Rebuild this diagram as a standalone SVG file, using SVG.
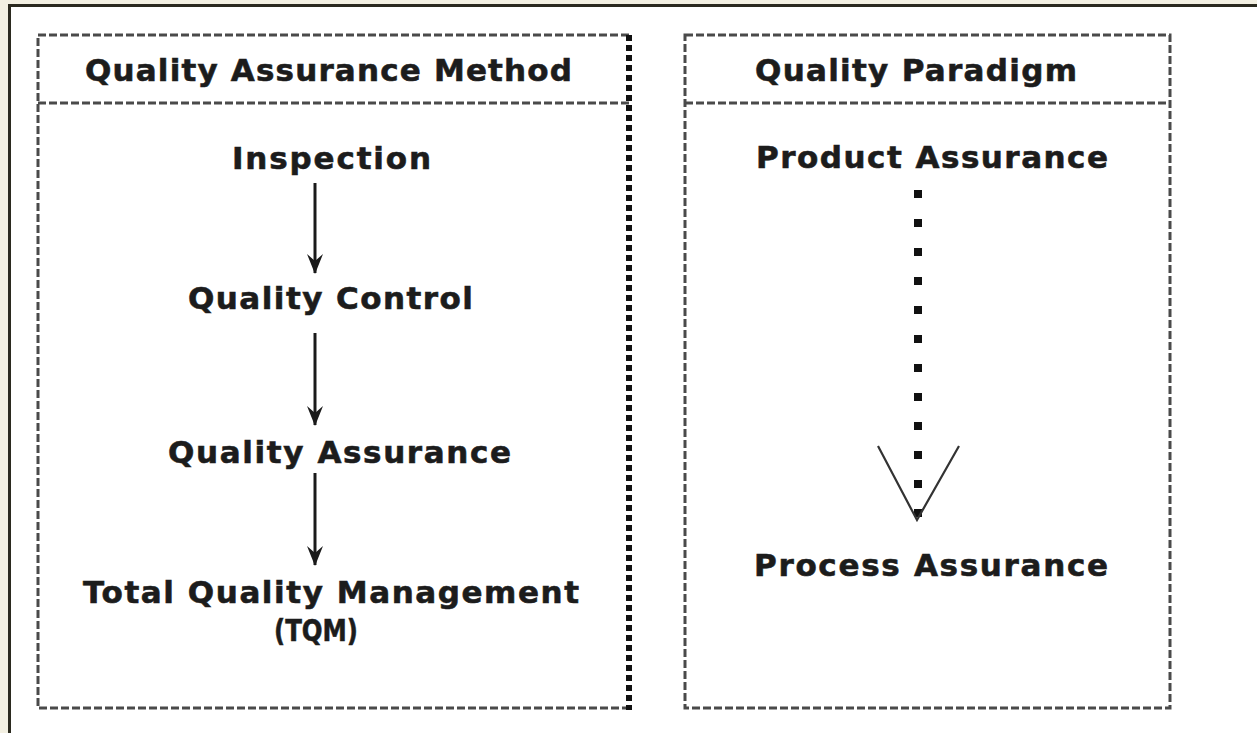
<svg xmlns="http://www.w3.org/2000/svg" width="1257" height="733" viewBox="0 0 1257 733">
<style>
.bg{fill:#f3f0e2}
.frame{fill:#ffffff;stroke:#2b2a1f;stroke-width:3}
.dash{fill:none;stroke:#4a4a4a;stroke-width:3;stroke-dasharray:8 3}
.thick{fill:none;stroke:#111;stroke-width:6;stroke-dasharray:6 4}
.t{font-family:"DejaVu Sans",sans-serif;font-weight:bold;font-size:31px;fill:#1c1c1c;stroke:#1c1c1c;stroke-width:0.6}
.arrow{stroke:#1a1a1a;stroke-width:3;fill:none}
.dots{stroke:#111;stroke-width:8;stroke-dasharray:8 21;fill:none}
.vee{stroke:#333;stroke-width:2.2;fill:none}
</style>
<defs>
<marker id="ah" markerWidth="20" markerHeight="16" refX="19" refY="8" orient="auto" markerUnits="userSpaceOnUse" viewBox="0 0 20 16">
<path d="M0,0 L7,8 L0,16 L20,8 Z" fill="#1a1a1a"/>
</marker>
</defs>
<rect class="bg" x="0" y="0" width="1257" height="733"/>
<rect class="frame" x="9.5" y="5.5" width="1260" height="740"/>

<g id="box-method">
<path class="dash" d="M629,35 H38 V708 H629"/>
<line class="dash" x1="38" y1="103" x2="629" y2="103"/>
<line class="thick" x1="629" y1="35" x2="629" y2="710"/>
<text class="t" x="85" y="81" textLength="487" lengthAdjust="spacing">Quality Assurance Method</text>
</g>

<g id="box-paradigm">
<rect class="dash" x="685" y="35" width="485" height="673"/>
<line class="dash" x1="685" y1="103" x2="1170" y2="103"/>
<text class="t" x="755" y="81" textLength="322" lengthAdjust="spacing">Quality Paradigm</text>
</g>

<g id="node-inspection"><text class="t" x="232" y="169" textLength="199" lengthAdjust="spacing">Inspection</text></g>
<g id="node-qc"><text class="t" x="188" y="309" textLength="285" lengthAdjust="spacing">Quality Control</text></g>
<g id="node-qa"><text class="t" x="168" y="463" textLength="343" lengthAdjust="spacing">Quality Assurance</text></g>
<g id="node-tqm">
<text class="t" x="83" y="603" textLength="496" lengthAdjust="spacing">Total Quality Management</text>
<text class="t" x="274" y="641" textLength="84" lengthAdjust="spacingAndGlyphs">(TQM)</text>
</g>
<g id="node-product"><text class="t" x="756" y="168" textLength="352" lengthAdjust="spacing">Product Assurance</text></g>
<g id="node-process"><text class="t" x="754" y="576" textLength="354" lengthAdjust="spacing">Process Assurance</text></g>

<g id="connectors">
<line class="arrow" x1="315" y1="183" x2="315" y2="273" marker-end="url(#ah)"/>
<line class="arrow" x1="315" y1="333" x2="315" y2="425" marker-end="url(#ah)"/>
<line class="arrow" x1="315" y1="473" x2="315" y2="565" marker-end="url(#ah)"/>
<line class="dots" x1="918" y1="190" x2="918" y2="525"/>
<polyline class="vee" points="878,446 917,520 959,446"/>
</g>
</svg>
